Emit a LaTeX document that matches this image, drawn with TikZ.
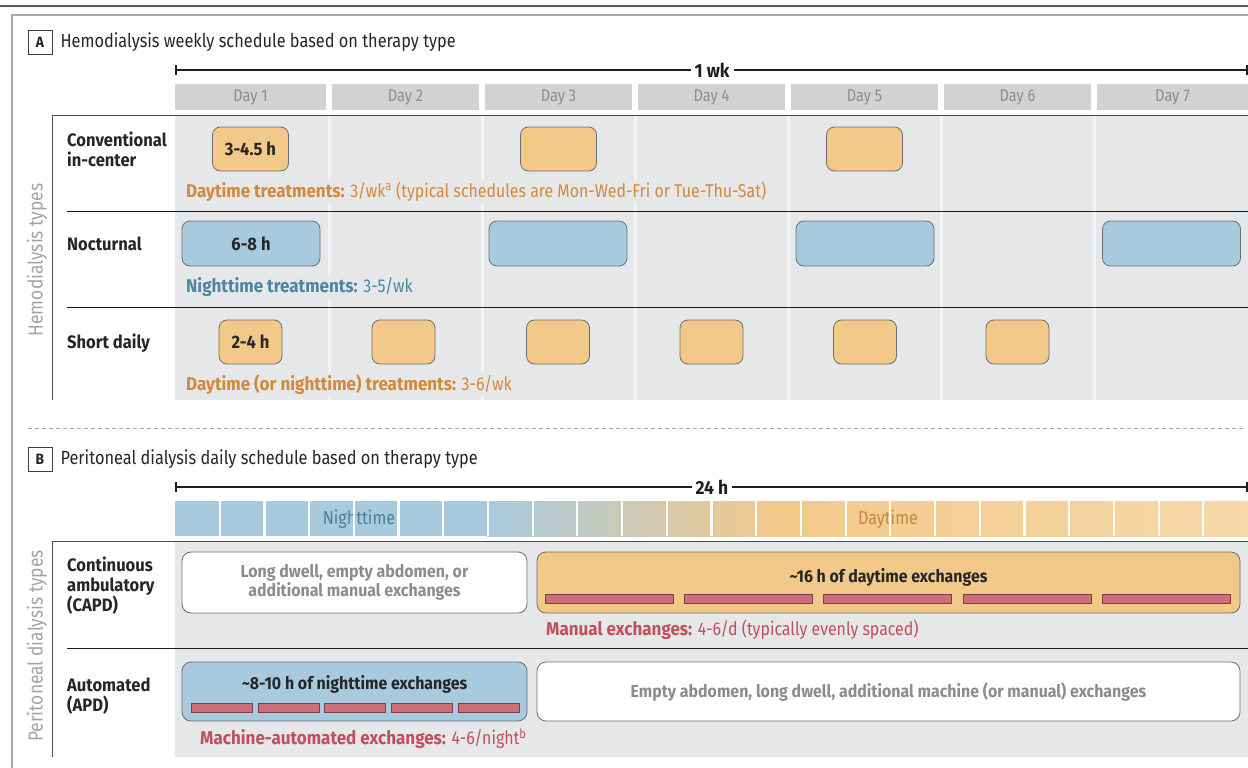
\documentclass[tikz,border=0pt]{standalone}
\usepackage{fontspec}
\setmainfont{Fira Sans}[FakeStretch=0.86, BoldFeatures={FakeStretch=0.92}]
\usetikzlibrary{positioning, arrows.meta}
\definecolor{bggray}{HTML}{E6E7E8}
\definecolor{headgray}{HTML}{D1D2D4}
\definecolor{daytext}{HTML}{8C8D8F}
\definecolor{hdorange}{HTML}{F3C98A}
\definecolor{hdblue}{HTML}{A8CADF}
\definecolor{dayhell}{HTML}{F6D8A9}
\definecolor{boxstroke}{HTML}{6E6E6E}
\definecolor{labelorange}{HTML}{D28A3A}
\definecolor{labelblue}{HTML}{4C86A0}
\definecolor{labelpink}{HTML}{C24F5E}
\definecolor{barpink}{HTML}{CD6E7B}
\definecolor{barstroke}{HTML}{7E3E48}
\definecolor{sidegray}{HTML}{A3A3A3}
\definecolor{softgray}{HTML}{8C8C8C}
\definecolor{framegray}{HTML}{A8A8A8}
\definecolor{nighttext}{HTML}{4F7F95}
\definecolor{daylabel}{HTML}{C58840}
\definecolor{sepwhite}{HTML}{F4F4F4}

\begin{document}
\begin{tikzpicture}[x=1pt, y=-1pt,
    letterbox/.style={
        draw=black!75, line width=0.8pt, minimum size=24pt, inner sep=0pt,
        font=\fontsize{15}{15}\selectfont\bfseries, text=black!85
    },
    title/.style={
        anchor=west, font=\fontsize{19}{21}\selectfont, text=black!85
    },
    ruler/.style={
        {Bar[width=10pt]}-{Bar[width=10pt]}, line width=2pt, draw=black!88
    },
    rulerlab/.style={
        fill=white, inner sep=4pt, font=\fontsize{19}{21}\selectfont\bfseries, text=black!88
    },
    dayhead/.style={
        fill=headgray, text=daytext, minimum width=#1, minimum height=26pt,
        inner sep=0pt, font=\fontsize{17}{19}\selectfont
    },
    treat/.style={
        draw=boxstroke, fill=#1, rounded corners=8pt, line width=0.8pt,
        inner sep=0pt, minimum height=44pt,
        font=\fontsize{18}{20}\selectfont\bfseries, text=black!85
    },
    rowlab/.style={
        anchor=west, align=left, inner sep=0pt,
        font=\fontsize{18}{20}\selectfont\bfseries, text=black!85
    },
    note/.style={
        anchor=west, fill=bggray, inner sep=2pt, text=#1,
        font=\fontsize{18.5}{20}\selectfont
    },
    typelab/.style={
        rotate=90, text=sidegray, font=\fontsize{20.2}{22}\selectfont
    },
    striplab/.style={
        text=#1, font=\fontsize{18.8}{20}\selectfont
    },
    boxtxt/.style={
        text=#1, align=center, font=\fontsize{17.3}{19}\selectfont\bfseries
    },
    pdbox/.style={
        draw=boxstroke, fill=#1, rounded corners=9pt, line width=0.8pt, inner sep=0pt
    },
    xbar/.style={
        draw=barstroke, fill=barpink, line width=0.8pt,
        minimum width=#1, minimum height=9pt, inner sep=0pt
    }
]
\useasboundingbox (0,0) rectangle (1248,768);

% Frame
\draw[line width=2pt, black!65] (0,6) -- (1248,6);
\draw[line width=1.2pt, framegray] (12,768) -- (12,15) -- (1248,15);

% Panel A: Hemodialysis
\node[letterbox] (lettera) at (40,42) {A};
\node[title] (titlea) at (57,42) {Hemodialysis weekly schedule based on therapy type};

\coordinate (wkL) at (175,70);
\coordinate (wkR) at (1248,70);
\draw[ruler] (wkL) -- (wkR);
\node[rulerlab] (wk) at (712,70) {1 wk};

\node[dayhead=151pt] (day1) at (250.5,97) {Day 1};
\node[dayhead=147pt] (day2) at (405.5,97) {Day 2};
\node[dayhead=147pt] (day3) at (558.5,97) {Day 3};
\node[dayhead=147pt] (day4) at (711.5,97) {Day 4};
\node[dayhead=147pt] (day5) at (864.5,97) {Day 5};
\node[dayhead=147pt] (day6) at (1017.5,97) {Day 6};
\node[dayhead=151pt] (day7) at (1172.5,97) {Day 7};

\fill[bggray] (175,115) rectangle (1248,400);
\foreach \x in {329,482,635,788,941,1094}
    \draw[sepwhite, line width=3pt] (\x,115) -- (\x,400);
\draw[line width=1pt, black!70] (52,400) -- (52,115) -- (1248,115);
\draw[line width=0.8pt, black!90] (67,211) -- (1248,211);
\draw[line width=0.8pt, black!90] (67,307) -- (1248,307);

\node[typelab] (hdtypes) at (37,260) {Hemodialysis types};

% Conventional in-center
\node[rowlab] (convlab) at (67,149) {Conventional\\in-center};
\node[treat=hdorange, minimum width=76pt] (conv1) at (250.5,149) {3-4.5 h};
\node[treat=hdorange, minimum width=76pt] (conv3) at (558.5,149) {};
\node[treat=hdorange, minimum width=76pt] (conv5) at (864.5,149) {};
\node[note=labelorange] (convnote) at (184,191.5)
    {\textbf{Daytime treatments:} 3/wk\textsuperscript{a} (typical schedules are Mon-Wed-Fri or Tue-Thu-Sat)};

% Nocturnal
\node[rowlab] (noctlab) at (67,244) {Nocturnal};
\node[treat=hdblue, minimum width=138pt, minimum height=45pt] (noct1) at (251,243.5) {6-8 h};
\node[treat=hdblue, minimum width=138pt, minimum height=45pt] (noct3) at (558,243.5) {};
\node[treat=hdblue, minimum width=138pt, minimum height=45pt] (noct5) at (865,243.5) {};
\node[treat=hdblue, minimum width=138pt, minimum height=45pt] (noct7) at (1171.5,243.5) {};
\node[note=labelblue] (noctnote) at (184,287.5) {\textbf{Nighttime treatments:} 3-5/wk};

% Short daily
\node[rowlab] (shortlab) at (67,343) {Short daily};
\node[treat=hdorange, minimum width=63pt] (short1) at (250.5,342) {2-4 h};
\node[treat=hdorange, minimum width=63pt] (short2) at (403.5,342) {};
\node[treat=hdorange, minimum width=63pt] (short3) at (558,342) {};
\node[treat=hdorange, minimum width=63pt] (short4) at (711.5,342) {};
\node[treat=hdorange, minimum width=63pt] (short5) at (865,342) {};
\node[treat=hdorange, minimum width=63pt] (short6) at (1017.5,342) {};
\node[note=labelorange] (shortnote) at (184,384.5) {\textbf{Daytime (or nighttime) treatments:} 3-6/wk};

\draw[framegray, line width=0.8pt, dash pattern=on 4pt off 3pt] (28,428) -- (1245,428);

% Panel B: Peritoneal dialysis
\node[letterbox] (letterb) at (40,459.5) {B};
\node[title] (titleb) at (57,459.5) {Peritoneal dialysis daily schedule based on therapy type};

\coordinate (dayL) at (175,487);
\coordinate (dayR) at (1248,487);
\draw[ruler] (dayL) -- (dayR);
\node[rulerlab] (hrs) at (712,487) {24 h};

% Time of day strip
\fill[hdblue] (175,501) rectangle (487,536);
\shade[left color=hdblue, right color=hdorange] (487,501) rectangle (780,536);
\shade[left color=hdorange, right color=dayhell] (780,501) rectangle (1248,536);
\node[striplab=nighttext] (night) at (359,519) {Nighttime};
\node[striplab=daylabel] (daytime) at (888,519) {Daytime};
\foreach \i in {1,...,23}
    \draw[white, line width=2.2pt] ({175+44.71*\i},501) -- ({175+44.71*\i},536);

\fill[bggray] (175,541) rectangle (1248,757);
\draw[line width=1pt, black!70] (52,757) -- (52,541) -- (1248,541);
\draw[line width=0.8pt, black!90] (67,648) -- (1248,648);

\node[typelab] (pdtypes) at (37,646) {Peritoneal dialysis types};

% CAPD
\node[rowlab] (capdlab) at (67,586) {Continuous\\ambulatory\\(CAPD)};
\node[pdbox=white, minimum width=345pt, minimum height=61pt] (capdrest) at (354.5,582.5) {};
\node[boxtxt=softgray] (capdresttxt) at (354.5,582.5)
    {Long dwell, empty abdomen, or\\additional manual exchanges};
\node[pdbox=hdorange, minimum width=703pt, minimum height=61pt] (capdday) at (888.5,582.5) {};
\node[boxtxt=black!85] (capddaytxt) at (888.5,577) {\textasciitilde16 h of daytime exchanges};
\node[xbar=128pt] (mx1) at (609,598.5) {};
\node[xbar=128pt] (mx2) at (748,598.5) {};
\node[xbar=128pt] (mx3) at (887.5,598.5) {};
\node[xbar=128pt] (mx4) at (1027,598.5) {};
\node[xbar=128pt] (mx5) at (1166,598.5) {};
\node[note=labelpink] (capdnote) at (544,629.5) {\textbf{Manual exchanges:} 4-6/d (typically evenly spaced)};

% APD
\node[rowlab] (apdlab) at (67,696) {Automated\\(APD)};
\node[pdbox=hdblue, minimum width=345pt, minimum height=59pt] (apdnight) at (354.5,691.5) {};
\node[boxtxt=black!85] (apdnighttxt) at (354.5,684) {\textasciitilde8-10 h of nighttime exchanges};
\node[xbar=61pt] (ax1) at (221.5,707.5) {};
\node[xbar=61pt] (ax2) at (288.5,707.5) {};
\node[xbar=61pt] (ax3) at (354.5,707.5) {};
\node[xbar=61pt] (ax4) at (421.5,707.5) {};
\node[xbar=61pt] (ax5) at (488.5,707.5) {};
\node[pdbox=white, minimum width=703pt, minimum height=59pt] (apdrest) at (888.5,691.5) {};
\node[boxtxt=softgray] (apdresttxt) at (888.5,691.5)
    {Empty abdomen, long dwell, additional machine (or manual) exchanges};
\node[note=labelpink] (apdnote) at (198,738.5) {\textbf{Machine-automated exchanges:} 4-6/night\textsuperscript{b}};

\end{tikzpicture}
\end{document}
